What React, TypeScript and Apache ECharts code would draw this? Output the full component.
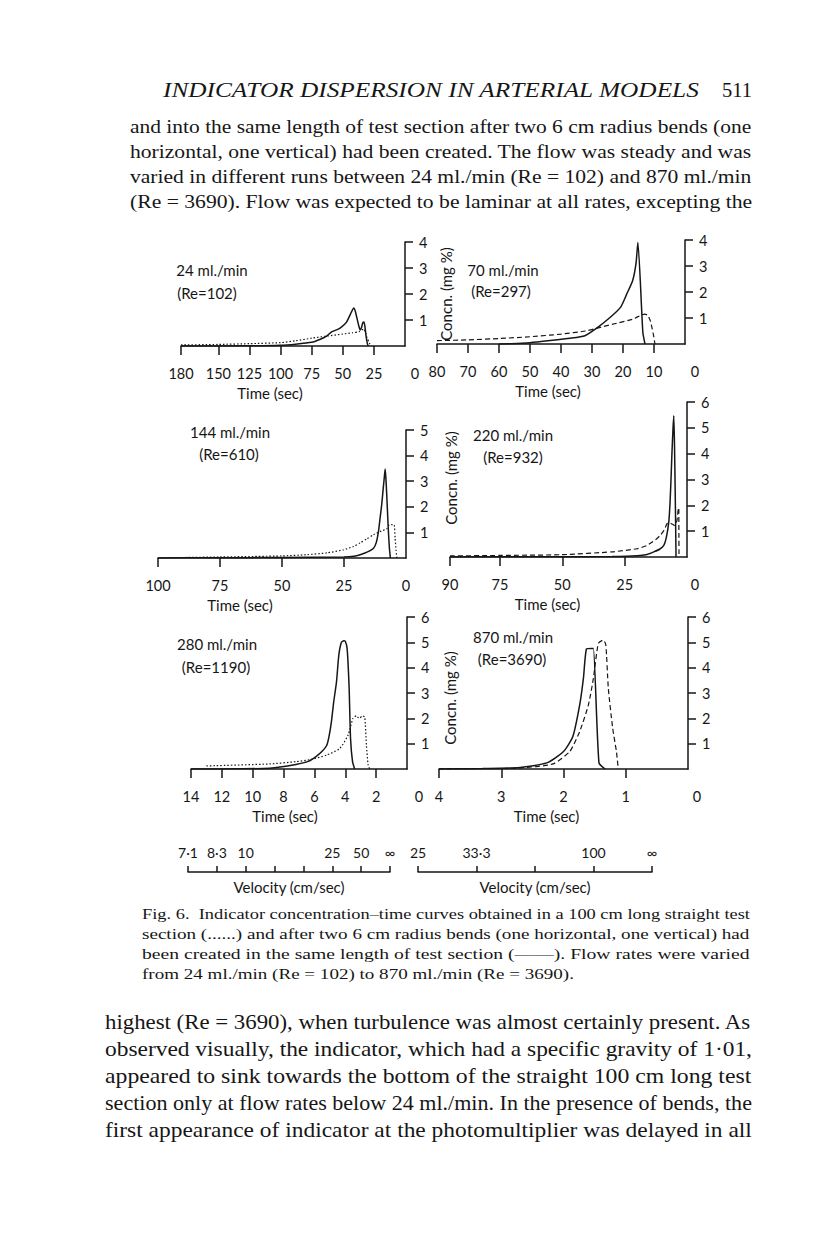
import React, { useEffect, useRef } from "react";
import * as echarts from "echarts";

const SANS = "Lato, 'Open Sans', 'Noto Sans', sans-serif";
const SERIF = "'Liberation Serif', 'DejaVu Serif', serif";
const INK = "#161616";

// ---------------- page text ----------------
const headerTitle = "INDICATOR DISPERSION IN ARTERIAL MODELS";
const headerPage = "511";
const topParagraph = [
  "and into the same length of test section after two 6 cm radius bends (one",
  "horizontal, one vertical) had been created. The flow was steady and was",
  "varied in different runs between 24 ml./min (Re = 102) and 870 ml./min",
  "(Re = 3690). Flow was expected to be laminar at all rates, excepting the",
];
const captionLines = [
  "Fig. 6.  Indicator concentration\u2013time curves obtained in a 100 cm long straight test",
  "section (......) and after two 6 cm radius bends (one horizontal, one vertical) had",
  "been created in the same length of test section (\u2014\u2014). Flow rates were varied",
  "from 24 ml./min (Re = 102) to 870 ml./min (Re = 3690).",
];
const bottomParagraph = [
  "highest (Re = 3690), when turbulence was almost certainly present. As",
  "observed visually, the indicator, which had a specific gravity of 1\u00b701,",
  "appeared to sink towards the bottom of the straight 100 cm long test",
  "section only at flow rates below 24 ml./min. In the presence of bends, the",
  "first appearance of indicator at the photomultiplier was delayed in all",
];

// ---------------- panel labels ----------------
const panelFlows = ["24 ml./min", "70 ml./min", "144 ml./min", "220 ml./min", "280 ml./min", "870 ml./min"];
const panelReynolds = ["(Re=102)", "(Re=297)", "(Re=610)", "(Re=932)", "(Re=1190)", "(Re=3690)"];
const timeAxisName = "Time (sec)";
const concAxisName = "Concn. (mg %)";
const velocityAxisName = "Velocity (cm/sec)";

// ---------------- axis ticks ----------------
const p1TimeTicks = [180, 150, 125, 100, 75, 50, 25];
const p1TimeText = ["180", "150", "125", "100", "75", "50", "25", "0"];
const p2TimeTicks = [80, 70, 60, 50, 40, 30, 20, 10];
const p2TimeText = ["80", "70", "60", "50", "40", "30", "20", "10", "0"];
const p3TimeTicks = [100, 75, 50, 25];
const p3TimeText = ["100", "75", "50", "25", "0"];
const p4TimeTicks = [95, 75, 50, 25]; // first tick is printed "90" in the source
const p4TimeText = ["90", "75", "50", "25", "0"];
const p5TimeTicks = [14, 12, 10, 8, 6, 4, 2];
const p5TimeText = ["14", "12", "10", "8", "6", "4", "2", "0"];
const p6TimeTicks = [4, 3, 2, 1];
const p6TimeText = ["4", "3", "2", "1", "0"];
const conc4Ticks = [1, 2, 3, 4];
const conc5Ticks = [1, 2, 3, 4, 5];
const conc6Ticks = [1, 2, 3, 4, 5, 6];

const velLeftTimes = [14, 12, 10, 8, 6, 4, 2, 0];
const velLeftText = ["7\u00b71", "8\u00b73", "10", "", "", "25", "50", "\u221e"];
const velRightTimes = [4, 3, 2, 1, 0];
const velRightText = ["25", "33\u00b73", "", "100", "\u221e"];

// ---------------- series data (time sec, concn mg %) ----------------
const p1BendTime = [180, 125, 100, 88, 75, 68.5, 63, 59, 55, 51.6, 47, 43, 41.2, 40, 38.5, 37, 36, 35, 34, 33, 32.2, 31.2, 30.2, 29.5];
const p1BendConc = [0, 0.01, 0.03, 0.07, 0.14, 0.25, 0.38, 0.54, 0.62, 0.71, 0.92, 1.31, 1.46, 1.35, 1.05, 0.75, 0.62, 0.7, 0.88, 0.92, 0.75, 0.35, 0.08, 0];
const p1StraightTime = [180, 150, 125, 100, 88, 75, 63, 50, 42, 37, 34.5, 33.2, 32, 30.5, 28.5, 26.5];
const p1StraightConc = [0.04, 0.06, 0.09, 0.13, 0.2, 0.3, 0.38, 0.46, 0.51, 0.55, 0.62, 0.66, 0.55, 0.32, 0.1, 0];

const p2BendTime = [60, 56, 50, 43.5, 37, 32.3, 28.5, 24.2, 20.8, 18.8, 16.9, 15.8, 15.2, 13.6, 12.9];
const p2BendConc = [0, 0.01, 0.05, 0.13, 0.22, 0.32, 0.61, 1.02, 1.41, 1.92, 2.43, 3.1, 3.9, 0.45, 0];
const p2StraightTime = [80, 70, 60, 50, 40, 32, 27, 22, 17, 14, 13, 12, 11.2, 10.6, 10.1, 9.7];
const p2StraightConc = [0.13, 0.16, 0.21, 0.28, 0.38, 0.5, 0.65, 0.8, 0.95, 1.12, 1.15, 1.1, 0.9, 0.6, 0.3, 0];

const p3BendTime = [100, 75, 50, 25, 21, 18.5, 15.5, 13.1, 12, 11.1, 10.4, 9.8, 9.2, 8.7, 8.4, 8.1, 7.9, 7.5, 7.1, 6.7, 6.3];
const p3BendConc = [0, 0.01, 0.02, 0.04, 0.07, 0.13, 0.24, 0.38, 0.6, 1.04, 1.6, 2.08, 2.7, 3.2, 3.48, 3.1, 2.73, 1.9, 1.04, 0.4, 0];
const p3StraightTime = [89, 75, 50, 40, 31.8, 25.2, 21.2, 18.5, 15.8, 13.1, 10, 7.8, 6.7, 5.8, 4.8, 4.4, 4.0, 3.7];
const p3StraightConc = [0.02, 0.04, 0.08, 0.13, 0.2, 0.32, 0.45, 0.59, 0.75, 0.91, 1.05, 1.14, 1.3, 1.3, 1.3, 0.78, 0.3, 0];

const p4BendTime = [95, 75, 50, 30, 20, 16, 13.3, 11, 9.3, 8.3, 7.3, 6.8, 6.4, 6.0, 5.6, 5.3, 5.0, 4.6, 4.4];
const p4BendConc = [0, 0.01, 0.01, 0.02, 0.05, 0.1, 0.2, 0.3, 0.45, 0.75, 1.36, 2.1, 3.04, 4.1, 4.98, 5.47, 4.3, 1.6, 0];
const p4StraightTime = [95, 75, 50, 30, 20, 16, 12.5, 10.7, 9.3, 8, 7.2, 6.4, 5.5, 5.0, 4.6, 4.0, 3.5, 3.3, 3.25, 3.2];
const p4StraightConc = [0.04, 0.06, 0.09, 0.2, 0.32, 0.45, 0.68, 0.84, 1.02, 1.29, 1.33, 1.3, 1.25, 1.22, 1.3, 1.42, 1.88, 1.9, 0.9, 0];

const p5BendTime = [14, 11, 8.9, 7.2, 6.4, 5.9, 5.5, 5.2, 5.05, 4.9, 4.75, 4.57, 4.42, 4.25, 4.1, 4.0, 3.88, 3.75, 3.66, 3.53, 3.39];
const p5BendConc = [0, 0.01, 0.03, 0.18, 0.3, 0.49, 0.7, 0.94, 1.3, 1.86, 2.65, 3.44, 4.49, 5.0, 5.06, 5.04, 4.75, 3.18, 1.21, 0.29, 0];
const p5StraightTime = [13, 8.9, 7.2, 6.2, 5.2, 4.36, 3.82, 3.5, 3.28, 3.15, 3.07, 2.9, 2.74, 2.63, 2.52, 2.41];
const p5StraightConc = [0.12, 0.2, 0.29, 0.38, 0.55, 0.81, 1.34, 2.0, 2.1, 2.02, 2.0, 2.1, 2.05, 0.94, 0.16, 0];

const p6BendTime = [4, 3.3, 2.7, 2.27, 2.0, 1.85, 1.74, 1.68, 1.63, 1.55, 1.52, 1.43, 1.33];
const p6BendConc = [0, 0.02, 0.06, 0.24, 0.69, 1.28, 2.53, 3.58, 4.74, 4.76, 4.76, 0.24, 0];
const p6StraightTime = [4, 3.3, 2.7, 2.17, 1.9, 1.74, 1.6, 1.52, 1.44, 1.36, 1.32, 1.28, 1.21, 1.15, 1.12];
const p6StraightConc = [0, 0.01, 0.04, 0.2, 0.69, 1.48, 2.53, 3.58, 4.96, 5.09, 4.9, 3.19, 1.61, 0.69, 0];

const zip = (a: number[], b: number[]) => a.map((v, i) => [v, b[i]]);

// panel definitions (data side)
const panels = [
  { tMax: 180, cTicks: conc4Ticks, ticks: p1TimeTicks, text: p1TimeText, bend: zip(p1BendTime, p1BendConc), straight: zip(p1StraightTime, p1StraightConc) },
  { tMax: 80, cTicks: conc4Ticks, ticks: p2TimeTicks, text: p2TimeText, bend: zip(p2BendTime, p2BendConc), straight: zip(p2StraightTime, p2StraightConc) },
  { tMax: 100, cTicks: conc5Ticks, ticks: p3TimeTicks, text: p3TimeText, bend: zip(p3BendTime, p3BendConc), straight: zip(p3StraightTime, p3StraightConc) },
  { tMax: 95, cTicks: conc6Ticks, ticks: p4TimeTicks, text: p4TimeText, bend: zip(p4BendTime, p4BendConc), straight: zip(p4StraightTime, p4StraightConc) },
  { tMax: 14, cTicks: conc6Ticks, ticks: p5TimeTicks, text: p5TimeText, bend: zip(p5BendTime, p5BendConc), straight: zip(p5StraightTime, p5StraightConc) },
  { tMax: 4, cTicks: conc6Ticks, ticks: p6TimeTicks, text: p6TimeText, bend: zip(p6BendTime, p6BendConc), straight: zip(p6StraightTime, p6StraightConc) },
];

// layout (pixels)
const layout = [
  { left: 181, right: 405, top: 242, bottom: 346, zeroShift: 10, timeShift: -23, flowX: 212, flowY: 270, reX: 207, reY: 293, name: true, nameGap: 33, namePadL: 0, namePadR: 0, dash: [1.5, 2] },
  { left: 437, right: 685, top: 240, bottom: 344, zeroShift: 10, timeShift: -13, flowX: 503, flowY: 270, reX: 501, reY: 291, name: false, nameGap: 0, namePadL: 0, namePadR: 0, dash: [5, 3] },
  { left: 158, right: 406, top: 430, bottom: 558, zeroShift: 0, timeShift: -42, flowX: 230, flowY: 432, reX: 229, reY: 454, name: true, nameGap: 37, namePadL: 32, namePadR: 0, dash: [1.5, 2] },
  { left: 450, right: 687, top: 402, bottom: 557, zeroShift: 8, timeShift: -21, flowX: 513, flowY: 435, reX: 513, reY: 457, name: false, nameGap: 0, namePadL: 0, namePadR: 0, dash: [5, 3] },
  { left: 191, right: 407, top: 617, bottom: 769, zeroShift: 12, timeShift: -14, flowX: 217, flowY: 644, reX: 216, reY: 667, name: true, nameGap: 35, namePadL: 0, namePadR: 10, dash: [1.5, 2] },
  { left: 439, right: 688, top: 617, bottom: 769, zeroShift: 9, timeShift: -17, flowX: 513, flowY: 637, reX: 512, reY: 659, name: false, nameGap: 0, namePadL: 0, namePadR: 0, dash: [5, 3] },
];
const velLayout = [
  { left: 188, right: 390, y: 872 },
  { left: 418, right: 652, y: 872 },
];

function buildOption() {
  const ctx = document.createElement("canvas").getContext("2d") as CanvasRenderingContext2D;
  const measure = (t: string, font: string) => {
    ctx.font = font;
    return ctx.measureText(t).width;
  };
  const serifText = (text: string, x: number, y: number, size: number, width: number | null, scale: number | null, italic = false) => {
    const font = `${italic ? "italic " : ""}${size}px ${SERIF}`;
    const nat = measure(text, font);
    const sx = width ? width / nat : scale || 1;
    return {
      element: {
        type: "text",
        x,
        y,
        scaleX: sx,
        silent: true,
        style: {
          text,
          fontSize: size,
          fontFamily: SERIF,
          fontStyle: italic ? "italic" : "normal",
          fill: INK,
          align: "left",
          verticalAlign: "middle",
          textAlign: "left",
          textVerticalAlign: "middle",
        },
      },
      sx,
    };
  };
  const sansText = (text: string, x: number, y: number, size: number) => ({
    type: "text",
    x,
    y,
    silent: true,
    style: {
      text,
      fontSize: size,
      fontFamily: SANS,
      fill: INK,
      align: "center",
      verticalAlign: "middle",
      textAlign: "center",
      textVerticalAlign: "middle",
    },
  });

  const graphic: any[] = [];
  graphic.push(serifText(headerTitle, 163, 90, 20, 537, null, true).element);
  graphic.push(serifText(headerPage, 722, 90, 20, 30, null).element);
  const topY = [126, 151, 176, 201];
  topParagraph.forEach((t, i) => graphic.push(serifText(t, 130, topY[i], 19.5, 622, null).element));
  const capY = [914, 934, 954, 974];
  const scales: number[] = [];
  captionLines.forEach((t, i) => {
    if (i < 3) {
      const r = serifText(t, 142, capY[i], 15.5, 608, null);
      scales.push(r.sx);
      graphic.push(r.element);
    } else {
      const avg = scales.reduce((a, b) => a + b, 0) / scales.length;
      graphic.push(serifText(t, 142, capY[i], 15.5, null, avg).element);
    }
  });
  const botY = [1022, 1049, 1076, 1103, 1130];
  bottomParagraph.forEach((t, i) => graphic.push(serifText(t, 105, botY[i], 21, 647, null).element));

  layout.forEach((L, i) => {
    graphic.push(sansText(panelFlows[i], L.flowX, L.flowY, 15));
    graphic.push(sansText(panelReynolds[i], L.reX, L.reY, 15));
  });

  const axisLineStyle = { color: INK, width: 1.5 };
  const grids: any[] = [];
  const xAxes: any[] = [];
  const yAxes: any[] = [];
  const series: any[] = [];

  panels.forEach((p, i) => {
    const L = layout[i];
    grids.push({ left: L.left, top: L.top, width: L.right - L.left, height: L.bottom - L.top, show: false, containLabel: false, outerBoundsMode: "none" });
    const labelVals = [...p.ticks, 0];
    const lookup = (v: number) => {
      const k = labelVals.findIndex((x) => Math.abs(x - v) < 1e-6);
      return k >= 0 ? p.text[k] : "";
    };
    xAxes.push({
      gridIndex: i,
      type: "value",
      min: 0,
      max: p.tMax,
      inverse: true,
      position: "bottom",
      axisLine: { show: true, onZero: false, lineStyle: axisLineStyle },
      axisTick: { show: true, customValues: p.ticks, length: 9, inside: false, lineStyle: axisLineStyle },
      axisLabel: {
        show: true,
        customValues: labelVals,
        margin: 20,
        color: INK,
        fontFamily: SANS,
        fontSize: 14.5,
        formatter: (v: number) => (v === 0 && L.zeroShift ? `{z|${lookup(v)}}` : lookup(v)),
        rich: { z: { padding: [0, 0, 0, 2 * L.zeroShift], color: INK, fontFamily: SANS, fontSize: 14.5 } },
      },
      splitLine: { show: false },
      name: timeAxisName,
      nameLocation: "middle",
      nameGap: 39,
      nameTextStyle: { color: INK, fontFamily: SANS, fontSize: 15, padding: [0, -2 * L.timeShift, 0, 0] },
    });
    yAxes.push({
      gridIndex: i,
      type: "value",
      position: "right",
      min: 0,
      max: p.cTicks[p.cTicks.length - 1],
      axisLine: { show: true, onZero: false, lineStyle: axisLineStyle },
      axisTick: { show: true, customValues: p.cTicks, length: 8, inside: false, lineStyle: axisLineStyle },
      axisLabel: { show: true, customValues: p.cTicks, margin: 14, color: INK, fontFamily: SANS, fontSize: 14.5 },
      splitLine: { show: false },
      name: L.name ? concAxisName : "",
      nameLocation: "middle",
      nameRotate: 90,
      nameGap: L.nameGap,
      nameTextStyle: { color: INK, fontFamily: SANS, fontSize: 15, padding: [0, L.namePadR, 0, L.namePadL] },
    });
    series.push({
      type: "line",
      name: "Two 6 cm radius bends",
      xAxisIndex: i,
      yAxisIndex: i,
      data: p.bend,
      symbol: "none",
      showSymbol: false,
      smooth: 0.2,
      silent: true,
      lineStyle: { color: INK, width: 1.5 },
      z: 3,
    });
    series.push({
      type: "line",
      name: "Straight 100 cm section",
      xAxisIndex: i,
      yAxisIndex: i,
      data: p.straight,
      symbol: "none",
      showSymbol: false,
      smooth: 0.2,
      silent: true,
      lineStyle: { color: INK, width: 1.2, type: L.dash },
      z: 2,
    });
  });

  // velocity scales (time axes relabelled as 100 cm / time)
  [
    { times: velLeftTimes, text: velLeftText, tMax: 14 },
    { times: velRightTimes, text: velRightText, tMax: 4 },
  ].forEach((v, j) => {
    const V = velLayout[j];
    const gi = 6 + j;
    grids.push({ left: V.left, top: V.y - 10, width: V.right - V.left, height: 10, show: false, containLabel: false, outerBoundsMode: "none" });
    const lookup = (x: number) => {
      const k = v.times.findIndex((t) => Math.abs(t - x) < 1e-6);
      return k >= 0 ? v.text[k] : "";
    };
    xAxes.push({
      gridIndex: gi,
      type: "value",
      min: 0,
      max: v.tMax,
      inverse: true,
      position: "bottom",
      axisLine: { show: true, onZero: false, lineStyle: axisLineStyle },
      axisTick: { show: true, customValues: v.times, length: 6, inside: true, lineStyle: axisLineStyle },
      axisLabel: { show: true, customValues: v.times.filter((t) => lookup(t) !== ""), inside: true, margin: 13, color: INK, fontFamily: SANS, fontSize: 14, formatter: (x: number) => lookup(x) },
      splitLine: { show: false },
      name: velocityAxisName,
      nameLocation: "middle",
      nameGap: 7,
      nameTextStyle: { color: INK, fontFamily: SANS, fontSize: 15 },
    });
    yAxes.push({ gridIndex: gi, type: "value", show: false, min: 0, max: 1 });
  });

  return {
    animation: false,
    backgroundColor: "#ffffff",
    textStyle: { fontFamily: SANS, color: INK },
    grid: grids,
    xAxis: xAxes,
    yAxis: yAxes,
    series,
    graphic: { elements: graphic },
  };
}

export default function App() {
  const ref = useRef<HTMLDivElement>(null);
  useEffect(() => {
    if (!ref.current) return;
    const chart = echarts.init(ref.current, null, { renderer: "svg" });
    chart.setOption(buildOption() as any);
    return () => chart.dispose();
  }, []);
  return (
    <div
      ref={ref}
      style={{ position: "absolute", left: 0, top: 0, width: 816, height: 1249, background: "#ffffff" }}
    />
  );
}
